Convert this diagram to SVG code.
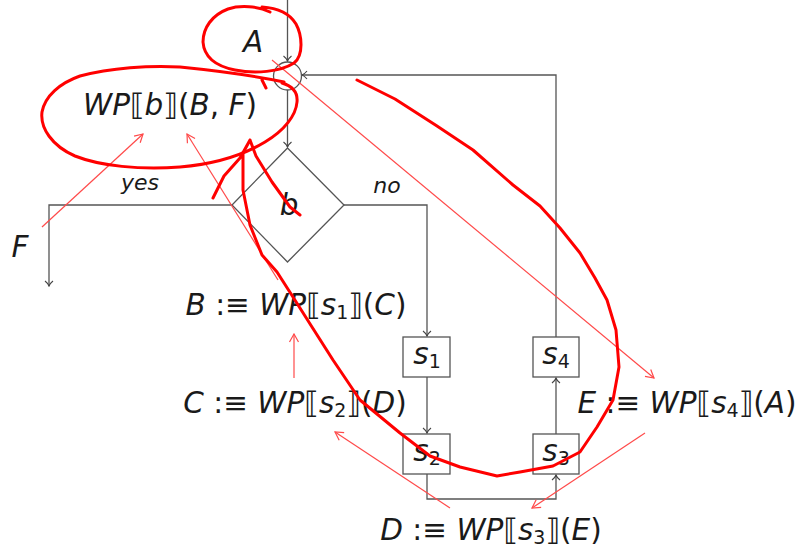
<svg xmlns="http://www.w3.org/2000/svg" width="798" height="554" viewBox="0 0 798 554">
<defs>
<style>
.ln{fill:none;stroke:#555;stroke-width:1.3}
.box{fill:#fff;stroke:#555;stroke-width:1.3}
.t{font-family:"DejaVu Sans",sans-serif;font-size:29.5px;fill:#1a1a1a}
.i{font-style:italic}
.sub{font-size:19px}
.lab{font-family:"DejaVu Sans",sans-serif;font-size:22px;font-style:italic;fill:#1a1a1a}
.rt{fill:none;stroke:#ff4a4a;stroke-width:1.2}
.rk{fill:none;stroke:#f00;stroke-width:3;stroke-linecap:round;stroke-linejoin:round}
</style>
<marker id="ah" viewBox="-6 -5 7 10" markerWidth="7" markerHeight="10" refX="0" refY="0" orient="auto" markerUnits="userSpaceOnUse">
<path d="M-5,-4 C-3,-1.5 -1,-0.3 0,0 C-1,0.3 -3,1.5 -5,4" fill="none" stroke="#444" stroke-width="1.1"/>
</marker>
<marker id="rh" viewBox="-9 -6 10 12" markerWidth="10" markerHeight="12" refX="0" refY="0" orient="auto" markerUnits="userSpaceOnUse">
<path d="M-8,-4.5 L0,0 L-8,4.5" fill="none" stroke="#ff4a4a" stroke-width="1.2"/>
</marker>
</defs>
<rect width="798" height="554" fill="#fff"/>

<g id="connectors">
<path class="ln" d="M287.5,0 V61" marker-end="url(#ah)"/>
<path class="ln" d="M287.5,90 V147" marker-end="url(#ah)"/>
<path class="ln" d="M556,337 V75 H302" marker-end="url(#ah)"/>
<path class="ln" d="M232,205 H49 V286" marker-end="url(#ah)"/>
<path class="ln" d="M344,205 H427 V336" marker-end="url(#ah)"/>
<path class="ln" d="M427,377 V433" marker-end="url(#ah)"/>
<path class="ln" d="M427,474 V499 H556 V475" marker-end="url(#ah)"/>
<path class="ln" d="M556,434 V378" marker-end="url(#ah)"/>
</g>

<g id="node-merge"><circle class="ln" cx="287.5" cy="76" r="14"/></g>
<g id="node-b">
<polygon class="box" points="287.5,148 344,205 287.5,262 232,205"/>
<text class="t i" x="289" y="215" text-anchor="middle">b</text>
</g>
<g id="node-s1"><rect class="box" x="403" y="337" width="47" height="40"/>
<text class="t" x="427" y="364" text-anchor="middle"><tspan class="i">s</tspan><tspan class="sub" dy="4">1</tspan></text></g>
<g id="node-s2"><rect class="box" x="403" y="434" width="47" height="40"/>
<text class="t" x="427" y="461" text-anchor="middle"><tspan class="i">s</tspan><tspan class="sub" dy="4">2</tspan></text></g>
<g id="node-s3"><rect class="box" x="533" y="434" width="46" height="40"/>
<text class="t" x="556" y="461" text-anchor="middle"><tspan class="i">s</tspan><tspan class="sub" dy="4">3</tspan></text></g>
<g id="node-s4"><rect class="box" x="533" y="337" width="46" height="40"/>
<text class="t" x="556" y="364" text-anchor="middle"><tspan class="i">s</tspan><tspan class="sub" dy="4">4</tspan></text></g>

<g id="labels">
<text class="t i" x="253" y="52" text-anchor="middle">A</text>
<text class="t" x="170" y="115" text-anchor="middle"><tspan class="i">WP</tspan>⟦<tspan class="i">b</tspan>⟧(<tspan class="i">B</tspan>, <tspan class="i">F</tspan>)</text>
<text class="lab" x="140" y="190" text-anchor="middle">yes</text>
<text class="lab" x="387" y="193" text-anchor="middle">no</text>
<text class="t i" x="20" y="257" text-anchor="middle">F</text>
<text class="t" x="296" y="315" text-anchor="middle"><tspan class="i">B</tspan> :≡ <tspan class="i">WP</tspan>⟦<tspan class="i">s</tspan><tspan class="sub" dy="4">1</tspan><tspan dy="-4">⟧(</tspan><tspan class="i">C</tspan>)</text>
<text class="t" x="295" y="413" text-anchor="middle"><tspan class="i">C</tspan> :≡ <tspan class="i">WP</tspan>⟦<tspan class="i">s</tspan><tspan class="sub" dy="4">2</tspan><tspan dy="-4">⟧(</tspan><tspan class="i">D</tspan>)</text>
<text class="t" x="687" y="413" text-anchor="middle"><tspan class="i">E</tspan> :≡ <tspan class="i">WP</tspan>⟦<tspan class="i">s</tspan><tspan class="sub" dy="4">4</tspan><tspan dy="-4">⟧(</tspan><tspan class="i">A</tspan>)</text>
<text class="t" x="491" y="540" text-anchor="middle"><tspan class="i">D</tspan> :≡ <tspan class="i">WP</tspan>⟦<tspan class="i">s</tspan><tspan class="sub" dy="4">3</tspan><tspan dy="-4">⟧(</tspan><tspan class="i">E</tspan>)</text>
</g>

<g id="annotations">
<path class="rt" d="M42,227 L143,134" marker-end="url(#rh)"/>
<path class="rt" d="M278,280 L187,134" marker-end="url(#rh)"/>
<path class="rt" d="M294,378 L294,334" marker-end="url(#rh)"/>
<path class="rt" d="M450,508 L335,432" marker-end="url(#rh)"/>
<path class="rt" d="M645,433 L532,508" marker-end="url(#rh)"/>
<path class="rt" d="M272,60 L654,378" marker-end="url(#rh)"/>
<path class="rk" d="M270,12 C258,6 240,5 228,9 C212,15 203,28 203,42 C204,56 215,66 235,70 C255,74 280,72 294,63 C304,55 302,35 296,24 C290,14 278,8 262,7"/>
<path class="rk" d="M284,82 C265,78 230,72 180,67 C150,65 110,68 80,76 C60,83 45,96 42,112 C40,128 52,146 75,156 C100,166 140,170 180,167 C215,164 245,154 265,142 C285,130 296,115 297,102 C298,92 292,86 282,83 M262,80 L266,88"/>
<path class="rk" d="M357,80 L395,99 L437,126 L473,150 L513,185 L540,206 L560,228 L580,253 L595,278 L607,300 L616,330 L619,367 L613,400 L597,427 L580,452 L553,466 L520,472 L497,476 L460,467 L430,456 L400,433 L360,400 L333,360 L312,327 L293,297 L277,272 L262,255 L250,225 L243,190 L243,153 L250,140 L256,156 L272,182 L290,207 L300,215 M250,140 L240,158 L224,176 L213,198"/>
</g>
</svg>
